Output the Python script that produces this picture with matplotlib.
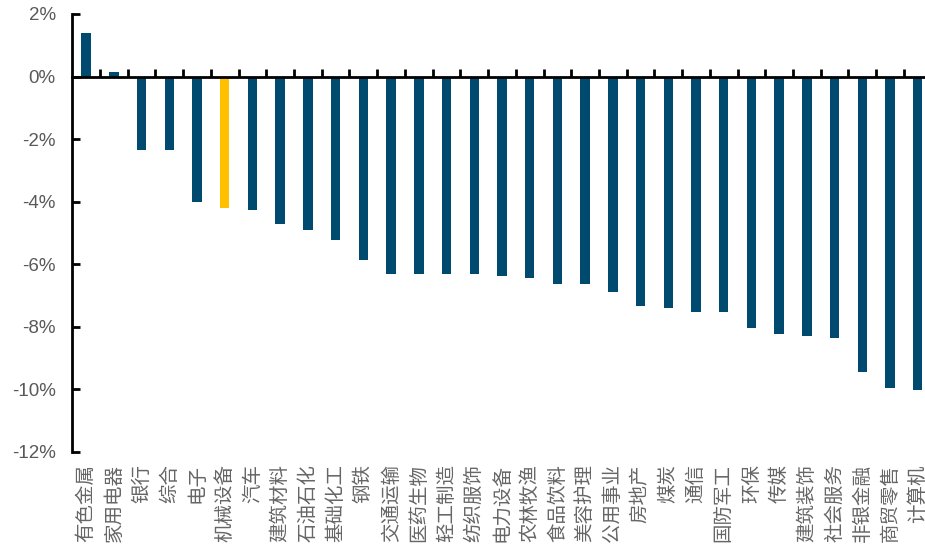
import matplotlib.pyplot as plt
import matplotlib.transforms as mtransforms
from matplotlib.ticker import FuncFormatter

plt.rcParams['font.family'] = ['Liberation Sans', 'Noto Sans CJK SC', 'DejaVu Sans']

industries = ['有色金属', '家用电器', '银行', '综合', '电子', '机械设备', '汽车', '建筑材料',
              '石油石化', '基础化工', '钢铁', '交通运输', '医药生物', '轻工制造', '纺织服饰',
              '电力设备', '农林牧渔', '食品饮料', '美容护理', '公用事业', '房地产', '煤炭',
              '通信', '国防军工', '环保', '传媒', '建筑装饰', '社会服务', '非银金融',
              '商贸零售', '计算机']
returns = [1.38, 0.16, -2.34, -2.34, -4.01, -4.20, -4.26, -4.71,
           -4.90, -5.22, -5.87, -6.31, -6.31, -6.31, -6.31,
           -6.38, -6.44, -6.63, -6.63, -6.89, -7.34, -7.40,
           -7.53, -7.53, -8.04, -8.24, -8.30, -8.37, -9.46,
           -9.97, -10.03]
highlight = '机械设备'

colors = ['#FFC000' if name == highlight else '#004A70' for name in industries]
x = list(range(len(industries)))

fig = plt.figure(figsize=(9.25, 5.48), dpi=100)
ax = fig.add_axes([72.3 / 925, 96.3 / 548, 859.3 / 925, 437.7 / 548])

ax.bar(x, returns, width=0.34, color=colors, zorder=2)

ax.set_ylim(-12, 2)
ax.set_xlim(-0.5, len(industries) - 0.5)
ax.set_yticks(range(-12, 3, 2))
ax.yaxis.set_major_formatter(FuncFormatter(lambda v, _: f'{v:.0f}%'))

for side in ['top', 'right']:
    ax.spines[side].set_visible(False)
ax.spines['left'].set_linewidth(2)
ax.spines['bottom'].set_position(('data', 0))
ax.spines['bottom'].set_linewidth(2)
ax.spines['bottom'].set_zorder(3)

ax.tick_params(axis='y', direction='in', length=6, width=2, pad=12,
               labelsize=13.5, labelcolor='#595959')
ax.set_xticks([i + 0.5 for i in x[:-1]])
ax.tick_params(axis='x', direction='in', length=6, width=2, labelbottom=False)

# category names hang below the plot area, rotated
trans = mtransforms.blended_transform_factory(ax.transData, ax.transAxes)
for i, name in zip(x, industries):
    ax.annotate(name, xy=(i, 0), xycoords=trans, xytext=(0, -9),
                textcoords='offset points', rotation=90, ha='center', va='top',
                fontsize=14, color='#666666', family=['Noto Sans CJK SC', 'DejaVu Sans'])

fig.savefig('out.png', dpi=100)
